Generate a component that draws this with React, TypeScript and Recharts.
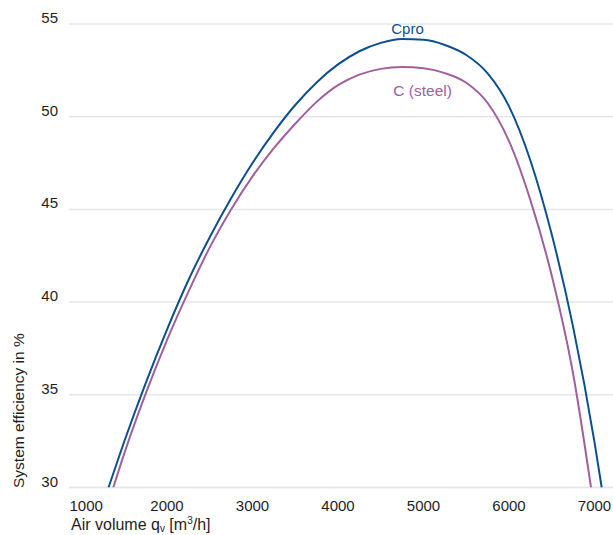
import React from 'react';
import { LineChart, Line, XAxis, YAxis, CartesianGrid, ReferenceDot, ReferenceLine, Label } from 'recharts';

// air volume qv [m3/h] and system efficiency [%]
const cproFlow = [1316, 1500, 1750, 2000, 2250, 2500, 2750, 3000, 3250, 3500, 3750, 4000, 4250, 4500, 4750, 5000, 5250, 5500, 5750, 6000, 6250, 6500, 6750, 7000, 7084];
const cproEff = [30.0, 32.48, 35.62, 38.52, 41.18, 43.5, 45.6, 47.5, 49.17, 50.63, 51.85, 52.82, 53.53, 53.98, 54.19, 54.15, 53.87, 53.33, 52.34, 50.56, 47.64, 43.64, 38.65, 32.43, 30.0];

const steelFlow = [1372, 1500, 1750, 2000, 2250, 2500, 2750, 3000, 3250, 3500, 3750, 4000, 4250, 4500, 4750, 5000, 5250, 5500, 5750, 6000, 6250, 6500, 6750, 6959];
const steelEff = [30.0, 31.83, 35.05, 37.95, 40.55, 42.95, 45.0, 46.78, 48.3, 49.62, 50.8, 51.7, 52.27, 52.58, 52.68, 52.61, 52.35, 51.83, 50.74, 48.68, 45.5, 41.42, 36.12, 30.0];

const xTicks = [1000, 2000, 3000, 4000, 5000, 6000, 7000];
const yTicks = [30, 35, 40, 45, 50, 55];

const cproData = cproFlow.map((q, i) => ({ q, eff: cproEff[i] }));
const steelData = steelFlow.map((q, i) => ({ q, eff: steelEff[i] }));

const FONT = '"Liberation Sans", Arial, sans-serif';
const TEXT = '#1e1e1e';
const BLUE = '#0b4f91';
const PURPLE = '#a0609c';
const GRID = '#e6e6e6';

const XTick = (props: any) => {
  const { x, y, payload, index } = props;
  const first = index === 0;
  return (
    <text x={first ? x - 12 : x} y={y + 23} textAnchor={first ? 'start' : 'middle'} fontSize={15} fill={TEXT} fontFamily={FONT}>
      {payload.value}
    </text>
  );
};

const YTick = (props: any) => {
  const { x, y, payload } = props;
  return (
    <text x={x} y={y - 1} textAnchor="end" fontSize={15} fill={TEXT} fontFamily={FONT}>
      {payload.value}
    </text>
  );
};

export default function App() {
  return (
    <div style={{ width: 613, height: 535 }}>
      <style>{'body{margin:0}'}</style>
      <LineChart width={613} height={535} margin={{ top: 24, right: 0, bottom: 0, left: 0 }}>
        <CartesianGrid vertical={false} stroke={GRID} strokeWidth={1.5} />
        <ReferenceLine y={30} stroke={GRID} strokeWidth={1.5} />
        <XAxis
          type="number"
          dataKey="q"
          domain={[854, 7216]}
          ticks={xTicks}
          allowDataOverflow
          axisLine={false}
          tickLine={false}
          tickSize={0}
          tickMargin={0}
          height={47.5}
          interval={0}
          tick={<XTick />}
        >
          <Label
            content={() => (
              <text x={71} y={530} fontSize={16} fill={TEXT} fontFamily={FONT}>
                Air volume q
                <tspan fontSize={10} dy={2}>v</tspan>
                <tspan dy={-2}> [m</tspan>
                <tspan fontSize={10} dy={-6}>3</tspan>
                <tspan dy={6}>/h]</tspan>
              </text>
            )}
          />
        </XAxis>
        <YAxis
          type="number"
          domain={[30, 55]}
          ticks={yTicks}
          allowDataOverflow
          axisLine={false}
          tickLine={false}
          tickSize={0}
          tickMargin={11}
          width={69}
          interval={0}
          tick={<YTick />}
        >
          <Label
            content={() => (
              <text x={24} y={488} transform="rotate(-90, 24, 488)" fontSize={15.5} fill={TEXT} fontFamily={FONT}>
                System efficiency in %
              </text>
            )}
          />
        </YAxis>
        <Line data={cproData} dataKey="eff" type="monotone" stroke={BLUE} strokeWidth={2} dot={false} activeDot={false} isAnimationActive={false} />
        <Line data={steelData} dataKey="eff" type="monotone" stroke={PURPLE} strokeWidth={2} dot={false} activeDot={false} isAnimationActive={false} />
        <ReferenceDot x={4813} y={54.73} r={0} stroke="none" label={{ value: 'Cpro', position: 'center', fill: BLUE, fontSize: 15, fontFamily: FONT }} />
        <ReferenceDot x={4990} y={51.39} r={0} stroke="none" label={{ value: 'C (steel)', position: 'center', fill: PURPLE, fontSize: 15.5, fontFamily: FONT }} />
      </LineChart>
    </div>
  );
}
